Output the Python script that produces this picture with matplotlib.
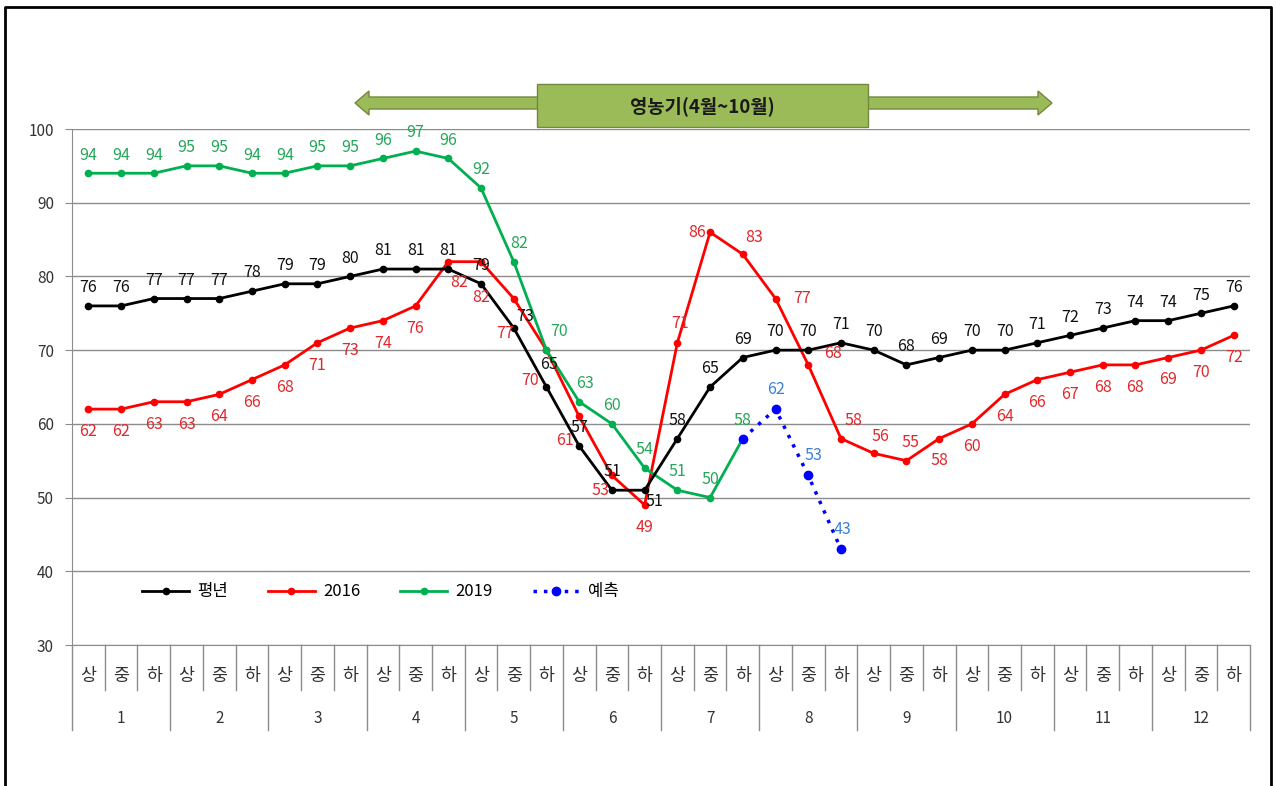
import numpy as np
import matplotlib
matplotlib.use("Agg")
import matplotlib.pyplot as plt
from matplotlib.patches import FancyArrow, Rectangle
import matplotlib.transforms as mtransforms

plt.rcParams['font.family'] = ['Noto Sans CJK KR', 'DejaVu Sans']

# Data: 36 dekads (상/중/하 for each month)
months = [str(m) for m in range(1, 13)]
dekads = ['상', '중', '하']
normal = [76, 76, 77, 77, 77, 78, 79, 79, 80, 81, 81, 81,
          79, 73, 65, 57, 51, 51, 58, 65, 69, 70, 70, 71,
          70, 68, 69, 70, 70, 71, 72, 73, 74, 74, 75, 76]
y2016 = [62, 62, 63, 63, 64, 66, 68, 71, 73, 74, 76, 82,
         82, 77, 70, 61, 53, 49, 71, 86, 83, 77, 68, 58,
         56, 55, 58, 60, 64, 66, 67, 68, 68, 69, 70, 72]
y2019 = [94, 94, 94, 95, 95, 94, 94, 95, 95, 96, 97, 96,
         92, 82, 70, 63, 60, 54, 51, 50, 58]
pred_start = 20
pred = [58, 62, 53, 43]

n = len(normal)
x = np.arange(n)
x19 = np.arange(len(y2019))
xp = np.arange(pred_start, pred_start + len(pred))

W, H = 1276, 786
fig = plt.figure(figsize=(W / 100, H / 100), dpi=100)
ax = fig.add_axes([72 / W, (H - 645) / H, (1250 - 72) / W, 516 / H])

ax.plot(x, normal, color='black', lw=2, marker='o', ms=4.5, label='평년', zorder=4)
ax.plot(x, y2016, color='#ff0000', lw=2, marker='o', ms=4.5, label='2016', zorder=3)
ax.plot(x19, y2019, color='#00b050', lw=2, marker='o', ms=4.5, label='2019', zorder=3)
ax.plot(xp, pred, color='#0000ff', lw=2.5, ls=(0, (1, 2)), marker='o', ms=6,
        label='예측', zorder=5)

ax.set_xlim(-0.5, n - 0.5)
ax.set_ylim(30, 100)
ax.set_yticks(range(30, 101, 10))
ax.yaxis.grid(True, color='#8c8c8c', lw=1)
ax.set_axisbelow(True)
ax.set_xticks([])
for s in ['top', 'right']:
    ax.spines[s].set_visible(False)
ax.spines['left'].set_color('#8c8c8c')
ax.spines['bottom'].set_color('#8c8c8c')
ax.tick_params(axis='y', length=5, color='#8c8c8c', labelsize=11, labelcolor='#333333', pad=8)

# value labels (offsets in points)
lab_fs = 11.5
black_off = {13: (8, 2), 14: (2, 10), 17: (7, -14)}
for i, v in enumerate(normal):
    ax.annotate(str(v), (i, v), xytext=black_off.get(i, (0, 7)), textcoords='offset points',
                ha='center', va='bottom', fontsize=lab_fs, color='#111111', zorder=6)

red_off = {11: (8, -15), 12: (0, -26), 13: (-6, -25), 14: (-12, -22), 15: (-10, -17),
           16: (-8, -11), 18: (2, 14), 19: (-9, 0), 20: (8, 12), 21: (19, 0),
           22: (18, 8), 23: (9, 13), 24: (5, 12), 25: (3, 13)}
for i, v in enumerate(y2016):
    dx, dy = red_off.get(i, (0, -10))
    ax.annotate(str(v), (i, v), xytext=(dx, dy), textcoords='offset points',
                ha='center', va='center' if i in red_off else 'top',
                fontsize=lab_fs, color='#e0282c', zorder=6)

green_off = {13: (4, 7), 14: (9, 7), 15: (4, 7)}
for i, v in enumerate(y2019):
    ax.annotate(str(v), (i, v), xytext=green_off.get(i, (0, 7)), textcoords='offset points',
                ha='center', va='bottom', fontsize=lab_fs, color='#26a65b', zorder=6)

blue_off = [None, (0, 8), (4, 8), (1, 8)]
for k, (i, v) in enumerate(zip(xp, pred)):
    if blue_off[k] is None:
        continue
    ax.annotate(str(v), (i, v), xytext=blue_off[k], textcoords='offset points',
                ha='center', va='bottom', fontsize=lab_fs, color='#3b7fd9', zorder=6)

leg = ax.legend(loc='center left', bbox_to_anchor=(0.047, 0.103), ncol=4, frameon=False,
                fontsize=12, handlelength=2.8, columnspacing=2.4, handletextpad=0.5)

# category table under the axis
trans = mtransforms.blended_transform_factory(ax.transData, ax.transAxes)
lc = '#8c8c8c'
for b in range(n + 1):
    xb = b - 0.5
    y_end = -0.165 if b % 3 == 0 else -0.087
    ax.plot([xb, xb], [0, y_end], transform=trans, color=lc, lw=1, clip_on=False)
for i in range(n):
    ax.text(i, -0.06, dekads[i % 3], transform=trans, ha='center', va='center',
            fontsize=12.5, color='#333333')
for m, lab in enumerate(months):
    ax.text(3 * m + 1, -0.1415, lab, transform=trans, ha='center', va='center',
            fontsize=11, color='#333333')

# overlay for banner and frame
ov = fig.add_axes([0, 0, 1, 1])
ov.set_xlim(0, W)
ov.set_ylim(H, 0)
ov.axis('off')
ov.patch.set_alpha(0)

fill, edge = '#9bbb59', '#71893f'
cy = 103
ov.add_patch(FancyArrow(700, cy, 1052 - 700, 0, width=12, head_width=24, head_length=14,
                        length_includes_head=True, fc=fill, ec=edge, lw=1))
ov.add_patch(FancyArrow(700, cy, 355 - 700, 0, width=12, head_width=24, head_length=14,
                        length_includes_head=True, fc=fill, ec=edge, lw=1))
ov.add_patch(Rectangle((537, 84), 868 - 537, 43, fc=fill, ec=edge, lw=1))
ov.text(702, 106, '영농기(4월~10월)', ha='center', va='center', fontsize=13.5,
        fontweight='bold', color='#1a1a1a')

ov.plot([5, 5, 1271, 1271], [H + 5, 7, 7, H + 5], color='black', lw=2, clip_on=False)

fig.savefig('out.png', dpi=100)
